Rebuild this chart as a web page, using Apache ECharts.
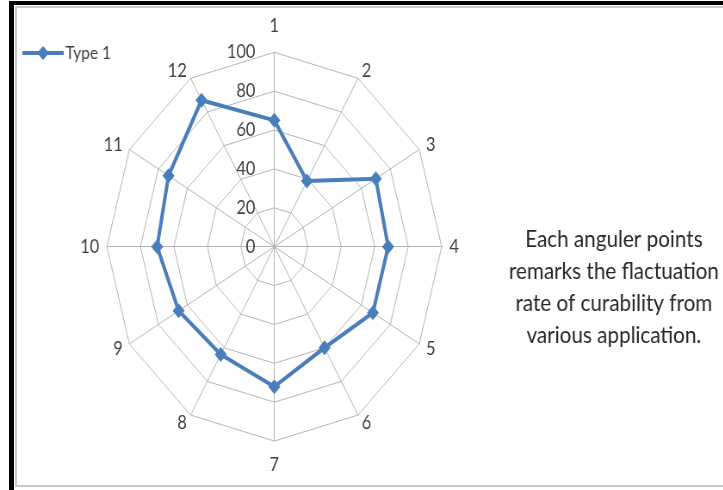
<!DOCTYPE html>
<html>
<head>
<meta charset="utf-8">
<script src="https://cdn.jsdelivr.net/npm/echarts@6/dist/echarts.min.js"></script>
<style>
  html, body { margin: 0; padding: 0; background: #fff; }
  body { width: 723px; height: 490px; position: relative; overflow: hidden; }
  .edge { position: absolute; }
  #outerLeft { left: 9px; top: 1px; width: 5px; height: 489px; background: #000; }
  #outerTop { left: 9px; top: 1px; width: 714px; height: 4px; background: #000; }
  #innerLeft { left: 15px; top: 6px; width: 2px; height: 481px; background: #c8c8c8; }
  #innerTop { left: 15px; top: 6px; width: 708px; height: 2px; background: #c8c8c8; }
  #innerBottom { left: 15px; top: 485px; width: 708px; height: 2px; background: #c8c8c8; }
  /* chart is laid out wider and condensed horizontally */
  #chart { position: absolute; left: 0; top: 0; width: 840px; height: 490px;
           transform: scaleX(0.861); transform-origin: 0 0; }
</style>
</head>
<body>
<div class="edge" id="outerLeft"></div>
<div class="edge" id="outerTop"></div>
<div class="edge" id="innerLeft"></div>
<div class="edge" id="innerTop"></div>
<div class="edge" id="innerBottom"></div>
<div id="chart"></div>
<script>
// Axis names, clockwise from the top
const categories = ['1', '2', '3', '4', '5', '6', '7', '8', '9', '10', '11', '12'];
// Type 1 values for each axis
const type1Values = [65, 39, 70, 68, 68, 60, 72, 64, 66, 70, 73, 87];
// Radial scale
const scaleMax = 100;
const scaleStep = 20;
const seriesName = 'Type 1';
const noteText = 'Each anguler points\nremarks the flactuation\nrate of curability from\nvarious application.';

const FONT = 'Lato';
const TEXT = '#404040';
const GRID = '#b4b4b4';
const BLUE = '#4a7ebb';
const CENTER = [318.6, 246.7];
const RADIUS = 194.4;

// ECharts lays radar axes out counter-clockwise; reverse to run clockwise from the top
const order = [0].concat(categories.map((_, i) => i).slice(1).reverse());
const indicators = order.map(i => ({ name: categories[i], min: 0, max: scaleMax }));
const values = order.map(i => type1Values[i]);

// legend key: a line with a diamond marker in the middle
const legendIcon = 'path://M0,5L48,5L48,9L0,9Z M24,0L31,7L24,14L17,7Z';

const chart = echarts.init(document.getElementById('chart'), null, { renderer: 'canvas' });
chart.setOption({
  backgroundColor: 'transparent',
  animation: false,
  textStyle: { fontFamily: FONT },
  legend: {
    left: 21, top: 39,
    itemWidth: 48, itemHeight: 14, itemGap: 4,
    textStyle: { fontFamily: FONT, fontSize: 18, color: TEXT, padding: [0, 0, 0, -3] },
    data: [{ name: seriesName, icon: legendIcon }]
  },
  radar: {
    center: CENTER,
    radius: RADIUS,
    startAngle: 90,
    shape: 'polygon',
    splitNumber: scaleMax / scaleStep,
    indicator: indicators,
    axisName: {
      color: TEXT, fontFamily: FONT, fontSize: 19,
      formatter: function (name) {
        if (name === '1') return '{up|' + name + '}';
        if (name === '7') return '{down|' + name + '}';
        return name;
      },
      rich: {
        up: { color: TEXT, fontFamily: FONT, fontSize: 19, padding: [0, 0, 8, 0] },
        down: { color: TEXT, fontFamily: FONT, fontSize: 19, padding: [5, 0, 0, 0] }
      }
    },
    nameGap: 9,
    axisLine: { lineStyle: { color: GRID, width: 1 } },
    splitLine: { lineStyle: { color: GRID, width: 1 } },
    splitArea: { show: false },
    axisTick: { show: false },
    axisLabel: { show: false }
  },
  // Radial tick labels along the top axis
  polar: { center: CENTER, radius: RADIUS },
  angleAxis: { show: false, startAngle: 90, min: 0, max: 360 },
  radiusAxis: {
    min: 0, max: scaleMax, interval: scaleStep,
    axisLine: { show: false },
    axisTick: { show: false },
    splitLine: { show: false },
    axisLabel: { show: true, color: TEXT, fontFamily: FONT, fontSize: 19, margin: 22 }
  },
  series: [{
    name: seriesName,
    type: 'radar',
    symbol: 'diamond',
    symbolSize: [14, 15],
    itemStyle: { color: BLUE },
    lineStyle: { color: BLUE, width: 4 },
    data: [{ value: values, name: seriesName }]
  }],
  graphic: [{
    type: 'text',
    x: 713, y: 287,
    style: {
      text: noteText,
      fontFamily: FONT,
      fontSize: 24,
      lineHeight: 32,
      fill: '#262626',
      align: 'center',
      verticalAlign: 'middle'
    }
  }]
});
</script>
</body>
</html>
